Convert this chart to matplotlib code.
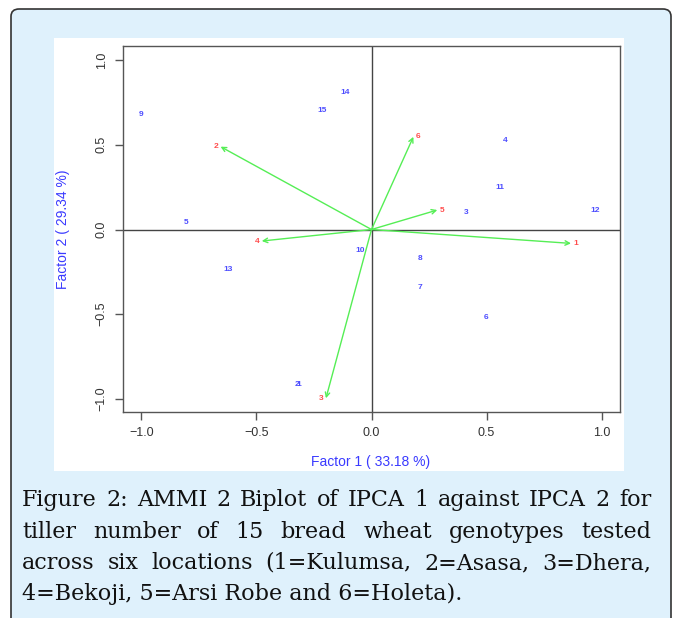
import matplotlib
matplotlib.use("Agg")
import matplotlib.pyplot as plt
from matplotlib.patches import FancyBboxPatch, Rectangle

# genotype scores (IPCA1, IPCA2)
geno_labels = [str(i) for i in range(1, 16)]
geno_x = [-0.318, -0.323, 0.41, 0.582, -0.806, 0.498, 0.21, 0.211, -1.002, -0.05, 0.556, 0.972, -0.625, -0.115, -0.216]
geno_y = [-0.912, -0.913, 0.099, 0.524, 0.04, -0.52, -0.341, -0.174, 0.68, -0.121, 0.247, 0.115, -0.235, 0.807, 0.705]

# environment vectors (IPCA1, IPCA2)
env_labels = ["1", "2", "3", "4", "5", "6"]
env_x = [0.867, -0.656, -0.198, -0.477, 0.286, 0.182]
env_y = [-0.082, 0.489, -0.996, -0.068, 0.115, 0.547]

xlabel = "Factor 1 ( 33.18 %)"
ylabel = "Factor 2 ( 29.34 %)"
ticks = [-1.0, -0.5, 0.0, 0.5, 1.0]

caption_lines = [
    "Figure 2: AMMI 2 Biplot of IPCA 1 against IPCA 2 for",
    "tiller number of 15 bread wheat genotypes tested",
    "across six locations (1=Kulumsa, 2=Asasa, 3=Dhera,",
    "4=Bekoji, 5=Arsi Robe and 6=Holeta).",
]

W, H = 673, 618
fig = plt.figure(figsize=(W / 100, H / 100), dpi=100)

def fx(px):
    return px / W

def fy(py):
    return 1 - py / H

# light blue box with rounded corners, white chart panel
box = FancyBboxPatch((fx(11), fy(630)), fx(671) - fx(11), fy(9) - fy(630),
                     boxstyle="round,pad=0,rounding_size=0.012",
                     transform=fig.transFigure, facecolor="#dff1fc",
                     edgecolor="#333333", linewidth=1.2, zorder=-2)
fig.patches.append(box)
panel = Rectangle((fx(54), fy(471)), fx(624) - fx(54), fy(38) - fy(471),
                  transform=fig.transFigure, facecolor="white",
                  edgecolor="none", zorder=-1)
fig.patches.append(panel)

ax = fig.add_axes([fx(123), fy(412), fx(620) - fx(123), fy(46) - fy(412)])
ax.set_facecolor("white")
ax.set_xlim(-1.08, 1.08)
ax.set_ylim(-1.077, 1.083)

ax.axhline(0, color="#444444", lw=1.0, zorder=1)
ax.axvline(0, color="#444444", lw=1.0, zorder=1)

for lab, x, y in zip(geno_labels, geno_x, geno_y):
    ax.text(x, y, lab, color="#4d4dff", fontsize=6, fontweight="bold",
            ha="center", va="center", family="Liberation Sans", zorder=3)

for lab, x, y in zip(env_labels, env_x, env_y):
    ax.annotate("", xy=(x, y), xytext=(0, 0),
                arrowprops=dict(arrowstyle="->", color="#55ee55", lw=1.0,
                                shrinkA=0, shrinkB=0, mutation_scale=8),
                zorder=2)
    dx = 3.5 if x > 0 else -3.5
    ax.annotate(lab, xy=(x, y), xytext=(dx, 0), textcoords="offset points",
                color="#ff4d4d", fontsize=6, fontweight="bold",
                ha="center", va="center", family="Liberation Sans", zorder=3)

for s in ax.spines.values():
    s.set_color("#555555")
    s.set_linewidth(1.0)
ax.set_xticks(ticks)
ax.set_yticks(ticks)
ax.set_xticklabels([f"{t:.1f}".replace("-", "\u2212") for t in ticks])
ax.set_yticklabels([f"{t:.1f}".replace("-", "\u2212") for t in ticks], rotation=90, va="center")
ax.tick_params(direction="out", length=6, width=1.0, color="#555555",
               labelsize=9, labelcolor="#333333", pad=5)
for t in ax.get_xticklabels() + ax.get_yticklabels():
    t.set_family("Liberation Sans")

fig.text(fx(371), fy(462), xlabel, color="#3a3aff", fontsize=10,
         ha="center", va="center", family="Liberation Sans")
fig.text(fx(63), fy(229), ylabel, color="#3a3aff", fontsize=10, rotation=90,
         ha="center", va="center", family="Liberation Sans")

# justified caption
renderer = fig.canvas.get_renderer()
left, right = 22, 651
line_y = [500, 532, 563, 594]
cap_font = dict(fontsize=16, family="DejaVu Serif", color="#111111", va="center")
for i, (line, ypix) in enumerate(zip(caption_lines, line_y)):
    words = line.split(" ")
    if i == len(caption_lines) - 1:
        fig.text(fx(left), fy(ypix), line, ha="left", **cap_font)
        continue
    arts = [fig.text(0, fy(ypix), w, ha="left", **cap_font) for w in words]
    widths = [a.get_window_extent(renderer).width for a in arts]
    gap = (right - left - sum(widths)) / (len(words) - 1)
    xpos = left
    for a, w in zip(arts, widths):
        a.set_x(fx(xpos))
        xpos += w + gap

fig.savefig("out.png", dpi=100)
